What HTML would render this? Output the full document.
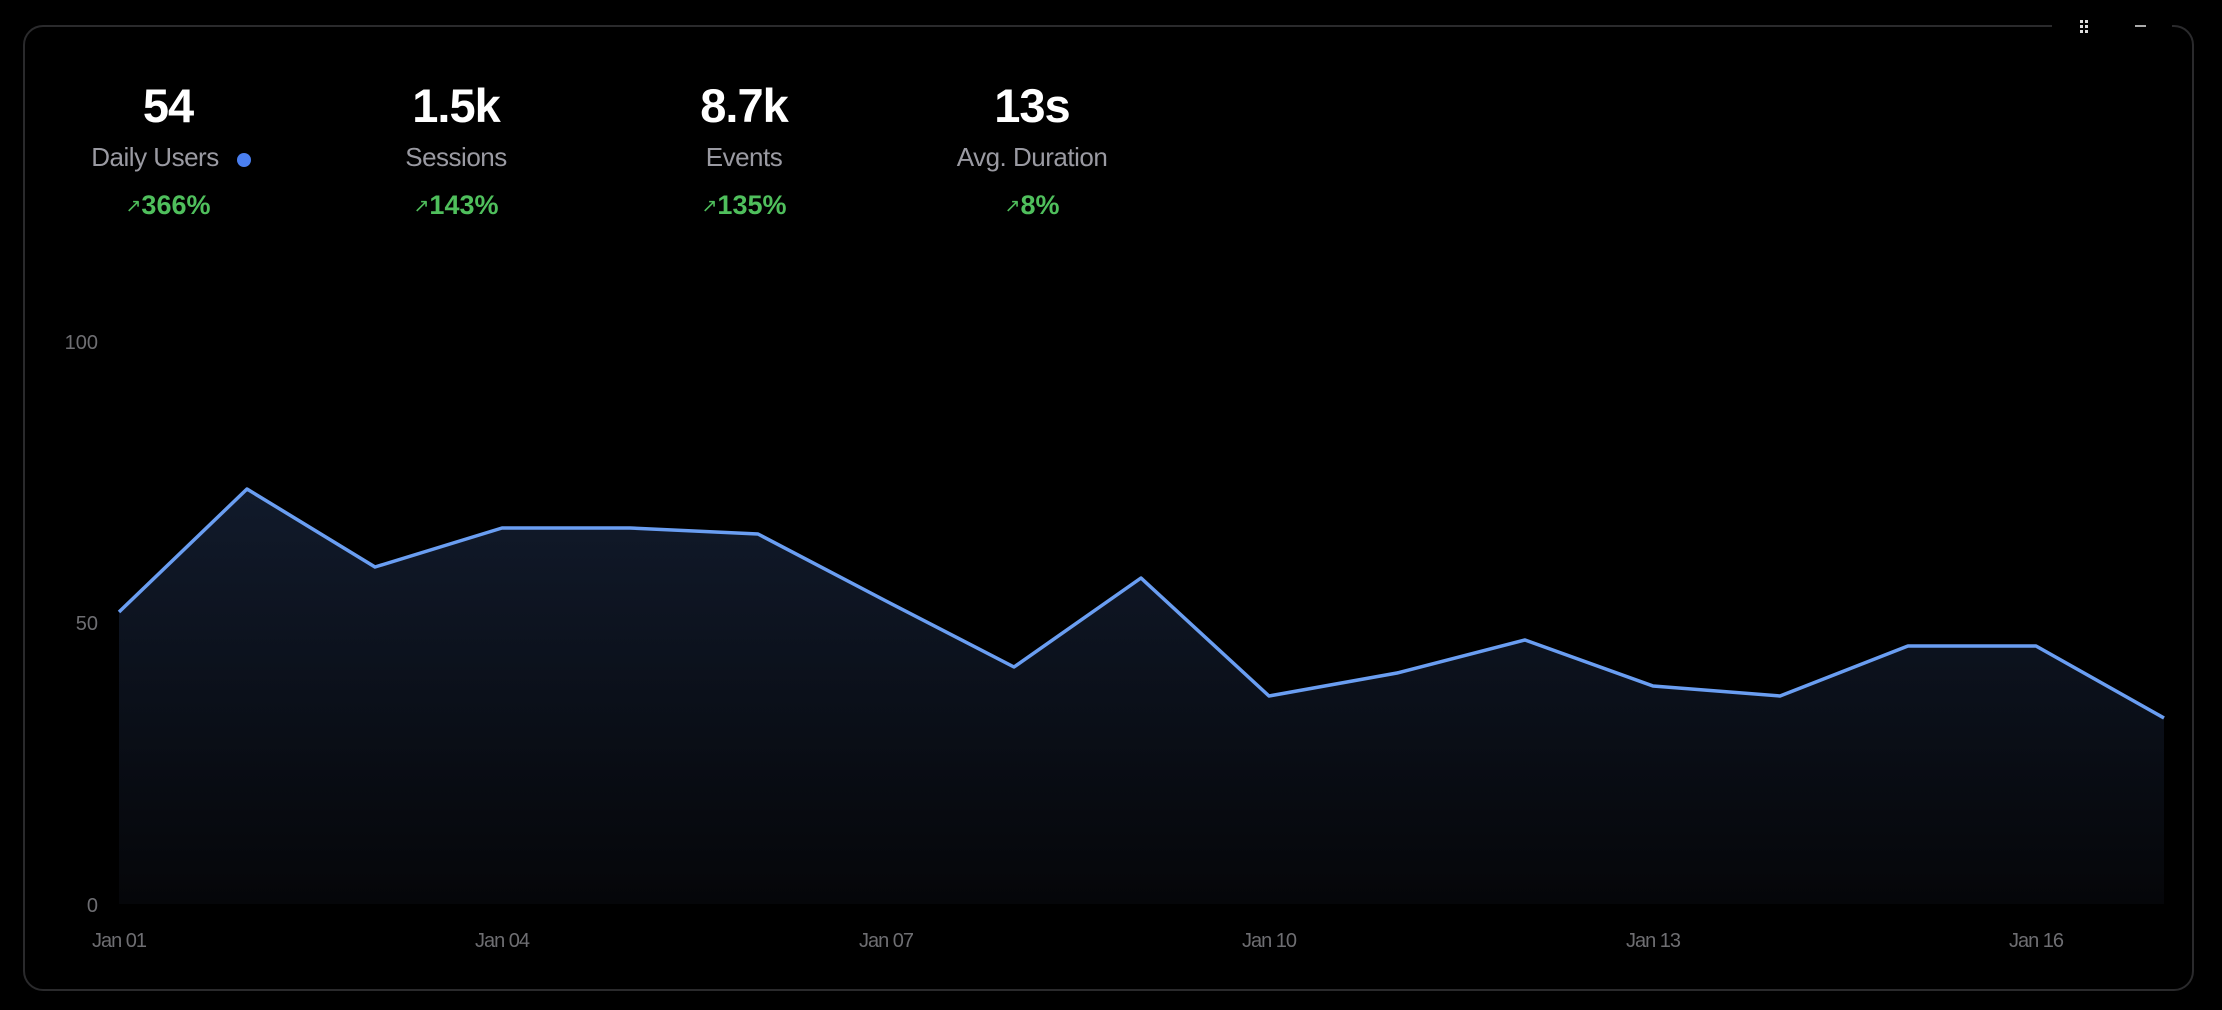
<!DOCTYPE html>
<html><head><meta charset="utf-8"><style>
html,body{margin:0;padding:0;background:#000;width:2222px;height:1010px;overflow:hidden;font-family:"Liberation Sans",sans-serif}
.card{position:absolute;left:23px;top:25px;width:2171px;height:966px;border:2px solid #2a2a2c;border-radius:20px;box-sizing:border-box}
.gap{position:absolute;left:2052px;top:20px;width:120px;height:10px;background:#000}
.stat{position:absolute;width:300px;text-align:center;color:#fff}
.num{position:absolute;top:78px;font-size:47px;font-weight:bold;letter-spacing:-1px}
.lab{position:absolute;top:142px;font-size:26px;color:#9a9aa2;letter-spacing:-0.5px}
.pct{position:absolute;top:190px;font-size:27px;color:#4fbf5c;font-weight:bold}
.pct span{font-size:19px;font-weight:normal;vertical-align:2px}
</style></head><body>
<div class="card"></div>
<div class="gap"></div>
<svg style="position:absolute;left:0;top:0" width="2222" height="1010">
<g fill="#ddd"><rect x="2080" y="20" width="3" height="3"/><rect x="2085" y="20" width="3" height="3"/><rect x="2080" y="25" width="3" height="3"/><rect x="2085" y="25" width="3" height="3"/><rect x="2080" y="30" width="3" height="3"/><rect x="2085" y="30" width="3" height="3"/></g>
<rect x="2135" y="25" width="11" height="2" fill="#aaa"/>
<defs><linearGradient id="g" x1="0" y1="0" x2="0" y2="1"><stop offset="0" stop-color="#111a2b"/><stop offset="1" stop-color="#050609"/></linearGradient></defs>
<path d="M119,612 L247,489 L375,567 L502,528 L630,528 L758,534 L886,601 L1014,667 L1141,578 L1269,696 L1397,673 L1525,640 L1653,686 L1780,696 L1908,646 L2036,646 L2164,718 L2164,904 L119,904 Z" fill="url(#g)"/>
<polyline points="119,612 247,489 375,567 502,528 630,528 758,534 886,601 1014,667 1141,578 1269,696 1397,673 1525,640 1653,686 1780,696 1908,646 2036,646 2164,718" fill="none" stroke="#6a9ef2" stroke-width="3.5" stroke-linejoin="round"/>
<g font-family="Liberation Sans" font-size="20" fill="#6e6e72" text-anchor="end">
<text x="98" y="349">100</text><text x="98" y="630">50</text><text x="98" y="912">0</text></g>
<g font-family="Liberation Sans" font-size="20" fill="#6e6e72" text-anchor="middle" letter-spacing="-1">
<text x="119" y="947">Jan 01</text><text x="502" y="947">Jan 04</text><text x="886" y="947">Jan 07</text><text x="1269" y="947">Jan 10</text><text x="1653" y="947">Jan 13</text><text x="2036" y="947">Jan 16</text></g>
<circle cx="244" cy="160" r="7" fill="#4a7ff0"/>
</svg>
<div class="stat" style="left:18px"><div class="num" style="width:300px">54</div><div class="lab" style="width:300px;left:-13px">Daily Users</div><div class="pct" style="width:300px"><span>↗</span>366%</div></div>
<div class="stat" style="left:306px"><div class="num" style="width:300px">1.5k</div><div class="lab" style="width:300px">Sessions</div><div class="pct" style="width:300px"><span>↗</span>143%</div></div>
<div class="stat" style="left:594px"><div class="num" style="width:300px">8.7k</div><div class="lab" style="width:300px">Events</div><div class="pct" style="width:300px"><span>↗</span>135%</div></div>
<div class="stat" style="left:882px"><div class="num" style="width:300px">13s</div><div class="lab" style="width:300px">Avg. Duration</div><div class="pct" style="width:300px"><span>↗</span>8%</div></div>
</body></html>
